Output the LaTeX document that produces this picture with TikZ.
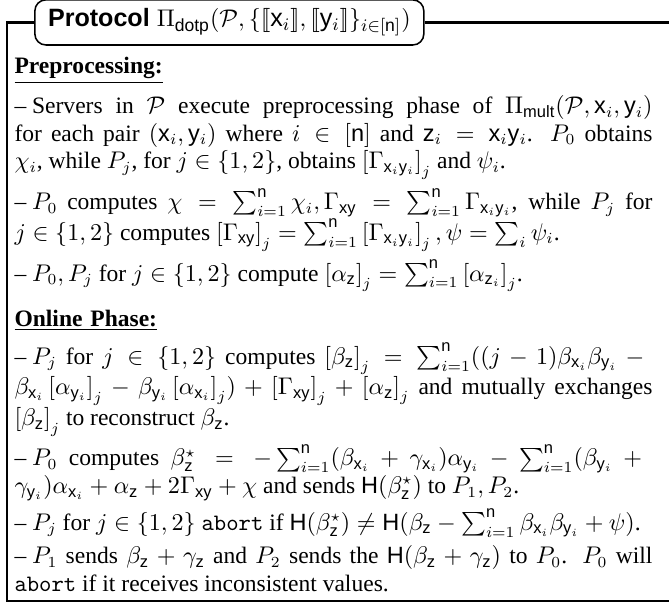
\documentclass[tikz,border=0pt]{standalone}
\usepackage{amsmath}
\usepackage{amssymb}
\usepackage{fontspec}
\setmainfont{Liberation Serif}
\setsansfont{Liberation Sans}
\usepackage{tikz}
\usetikzlibrary{calc}
\usetikzlibrary{positioning}

\newcommand{\lsb}{[\![}
\newcommand{\rsb}{]\!]}
\newcommand{\sv}[1]{\mathsf{#1}}
\newcommand{\shr}[1]{\left[#1\right]}
\newcommand{\itm}{\noindent\hangindent=8pt\hangafter=1\makebox[8pt][l]{--}}

\begin{document}
\begin{tikzpicture}[x=1pt,y=1pt,node distance=3.5pt]
						\tikzstyle{frame}=[line width=1.3pt]
						\tikzstyle{head}=[draw, rounded corners=5pt, line width=0.7pt, inner xsep=6pt, inner ysep=0pt, minimum height=20.5pt]
						\tikzstyle{para}=[inner sep=0pt, text width=290pt, align=justify, font=\fontsize{10.7}{12.5}\selectfont]
						\tikzstyle{phase}=[para, align=left]
						\useasboundingbox (0,0) rectangle (304.1,-275);
						\node[head, anchor=west] (title) at (15.5,-10.2) {\fontsize{11.4}{13}\selectfont\sffamily\bfseries Protocol \normalfont$\Pi_{\sv{dotp}}(\mathcal{P},\{\lsb\sv{x}_i\rsb,\lsb\sv{y}_i\rsb\}_{i\in[\sv{n}]})$};
						\coordinate (tl) at (3.2,-10.2);
						\coordinate (br) at (304.1,-273.2);
						\node[phase, anchor=north west] (pre) at (6.4,-26)       {\underline{\textbf{Preprocessing:}}};
						\node[para] (b1) [below=5pt of pre]            {\itm Servers in $\mathcal{P}$ execute preprocessing phase of $\Pi_{\sv{mult}}(\mathcal{P},\sv{x}_i,\sv{y}_i)$ \linebreak for each pair $(\sv{x}_i,\sv{y}_i)$ where $i\in[\sv{n}]$ and $\sv{z}_i=\sv{x}_i\sv{y}_i$. $P_0$ obtains \linebreak $\chi_i$, while $P_j$, for $j\in\{1,2\}$, obtains $\shr{\Gamma_{\sv{x}_i\sv{y}_i}}_j$ and $\psi_i$.};
						\node[para] (b2) [below=of b1]            {\itm $P_0$ computes $\chi=\sum_{i=1}^{\sv{n}}\chi_i, \Gamma_{\sv{xy}}=\sum_{i=1}^{\sv{n}}\Gamma_{\sv{x}_i\sv{y}_i}$, while $P_j$ for \linebreak $j\in\{1,2\}$ computes $\shr{\Gamma_{\sv{xy}}}_j=\sum_{i=1}^{\sv{n}}\shr{\Gamma_{\sv{x}_i\sv{y}_i}}_j, \psi=\sum_i\psi_i$.};
						\node[para] (b3) [below=of b2]            {\itm $P_0,P_j$ for $j\in\{1,2\}$ compute $\shr{\alpha_{\sv{z}}}_j=\sum_{i=1}^{\sv{n}}\shr{\alpha_{\sv{z}_i}}_j$.};
						\node[phase] (online) [below=8pt of b3]  {\underline{\textbf{Online Phase:}}};
						\node[para] (b4) [below=5pt of online]        {\itm $P_j$ for $j\in\{1,2\}$ computes $\shr{\beta_{\sv{z}}}_j=\sum_{i=1}^{\sv{n}}((j-1)\beta_{\sv{x}_i}\beta_{\sv{y}_i}-{}$ \linebreak $\beta_{\sv{x}_i}\shr{\alpha_{\sv{y}_i}}_j-\beta_{\sv{y}_i}\shr{\alpha_{\sv{x}_i}}_j)+\shr{\Gamma_{\sv{xy}}}_j+\shr{\alpha_{\sv{z}}}_j$ and mutually exchanges \linebreak $\shr{\beta_{\sv{z}}}_j$ to reconstruct $\beta_{\sv{z}}$.};
						\node[para] (b5) [below=of b4]            {\itm $P_0$ computes $\beta^\star_{\sv{z}}=-\sum_{i=1}^{\sv{n}}(\beta_{\sv{x}_i}+\gamma_{\sv{x}_i})\alpha_{\sv{y}_i}-\sum_{i=1}^{\sv{n}}(\beta_{\sv{y}_i}+{}$ \linebreak $\gamma_{\sv{y}_i})\alpha_{\sv{x}_i}+\alpha_{\sv{z}}+2\Gamma_{\sv{xy}}+\chi$ and sends $\sv{H}(\beta^\star_{\sv{z}})$ to $P_1,P_2$.};
						\node[para] (b6) [below=of b5]            {\itm $P_j$ for $j\in\{1,2\}$ \texttt{abort} if $\sv{H}(\beta^\star_{\sv{z}})\neq\sv{H}(\beta_{\sv{z}}-\sum_{i=1}^{\sv{n}}\beta_{\sv{x}_i}\beta_{\sv{y}_i}+\psi)$.};
						\node[para] (b7) [below=of b6]            {\itm $P_1$ sends $\beta_{\sv{z}}+\gamma_{\sv{z}}$ and $P_2$ sends the $\sv{H}(\beta_{\sv{z}}+\gamma_{\sv{z}})$ to $P_0$. $P_0$ will \linebreak \texttt{abort} if it receives inconsistent values.};
				\draw[frame] (title.west) -- (tl) -- (tl |- br) -- (br);
				\draw[frame] (title.east) -- (title.east -| br);
				\end{tikzpicture}
\end{document}
